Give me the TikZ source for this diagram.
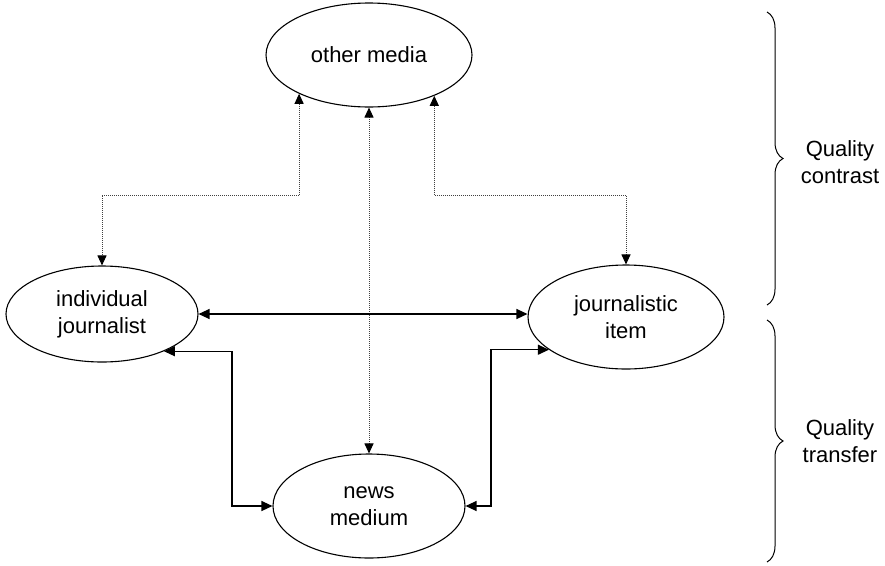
\documentclass[tikz,border=0pt]{standalone}
\usepackage{fontspec}
\setmainfont{Liberation Sans}
\usetikzlibrary{shapes.geometric,arrows.meta,decorations.pathreplacing}
\tikzset{
  ell/.style={draw, ellipse, line width=1.1pt, inner sep=0pt, align=center,
    font=\fontsize{22}{27}\selectfont},
  solidarrow/.style={line width=1.2pt, {Triangle[length=11pt,width=10pt]}-{Triangle[length=11pt,width=10pt]}},
  dotarrow/.style={line width=1pt, black!75, dash pattern=on 1pt off 1pt,
    {Triangle[length=10pt,width=9pt,color=black]}-{Triangle[length=10pt,width=9pt,color=black]}},
  bracestyle/.style={line width=1pt, decorate, decoration={brace, amplitude=16pt}},
  label/.style={align=center, font=\fontsize{22}{27}\selectfont}
}
\begin{document}
\begin{tikzpicture}[x=1pt,y=-1pt]
\useasboundingbox (0,0) rectangle (885,565);
\node[ell, minimum width=206pt, minimum height=104pt] (om) at (369,55) {other media};
\node[ell, minimum width=192pt, minimum height=96pt] (ij) at (102,314) {individual\\journalist};
\node[ell, minimum width=196pt, minimum height=104pt] (ji) at (626,317) {journalistic\\item};
\node[ell, minimum width=192pt, minimum height=104pt] (nm) at (369,506) {news\\medium};

\coordinate (d1) at (200,195);
\coordinate (d2) at (530,195);
\coordinate (c1) at (232,506);
\coordinate (c2) at (491,506);

\draw[dotarrow] (om.-151) |- (d1) -| (ij.north);
\draw[dotarrow] (om.-32) |- (d2) -| (ji.north);
\draw[dotarrow] (om.south) -- (nm.north);

\draw[solidarrow] (ij.east) -- (ij.east -| ji.west);
\draw[solidarrow] (ij.-31) -| (c1) -- (nm.west);
\draw[solidarrow] (ji.-157) -| (c2) -- (nm.east);

\coordinate (b1) at (767,12);
\coordinate (b2) at (767,305);
\coordinate (b3) at (767,320);
\coordinate (b4) at (767,562);
\draw[bracestyle] (b1) -- (b2);
\draw[bracestyle] (b3) -- (b4);
\node[label] (qc) at (840,162) {Quality\\contrast};
\node[label] (qt) at (840,441) {Quality\\transfer};
\end{tikzpicture}
\end{document}
